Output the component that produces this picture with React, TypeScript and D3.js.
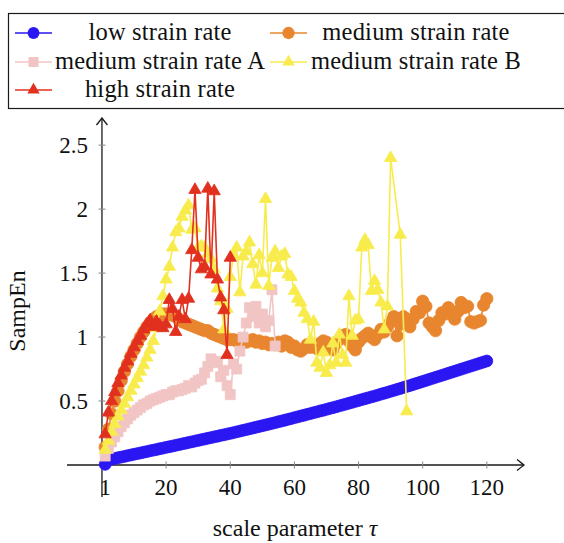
import * as d3 from 'd3';

// scale parameter tau for each series
const tauLow = d3.range(1, 121);
const tauMedium = d3.range(1, 121);
const tauMediumA = d3.range(1, 55);
const tauMediumB = d3.range(1, 91).concat([93, 95]);
const tauHigh = d3.range(1, 41);

const lowRate = [
  0.005, 0.04, 0.046, 0.051, 0.057, 0.062, 0.067, 0.073, 0.078, 0.084,
  0.089, 0.094, 0.1, 0.105, 0.111, 0.116, 0.121, 0.127, 0.132, 0.138,
  0.143, 0.148, 0.154, 0.159, 0.165, 0.17, 0.176, 0.181, 0.187, 0.192,
  0.198, 0.203, 0.209, 0.214, 0.22, 0.225, 0.231, 0.236, 0.242, 0.247,
  0.253, 0.259, 0.265, 0.271, 0.277, 0.283, 0.289, 0.295, 0.301, 0.307,
  0.313, 0.319, 0.325, 0.331, 0.338, 0.344, 0.35, 0.357, 0.363, 0.37,
  0.376, 0.383, 0.389, 0.396, 0.402, 0.409, 0.415, 0.422, 0.428, 0.435,
  0.442, 0.448, 0.455, 0.462, 0.469, 0.476, 0.483, 0.49, 0.497, 0.504,
  0.511, 0.518, 0.525, 0.532, 0.539, 0.546, 0.554, 0.561, 0.568, 0.576,
  0.583, 0.591, 0.598, 0.606, 0.614, 0.621, 0.629, 0.637, 0.645, 0.653,
  0.661, 0.669, 0.677, 0.685, 0.693, 0.701, 0.709, 0.717, 0.725, 0.733,
  0.741, 0.749, 0.757, 0.765, 0.773, 0.781, 0.789, 0.797, 0.805, 0.813,
];

const mediumRate = [
  0.14, 0.28, 0.4, 0.5, 0.58, 0.66, 0.73, 0.79, 0.85, 0.9,
  0.95, 1.0, 1.04, 1.08, 1.11, 1.14, 1.16, 1.17, 1.18, 1.18,
  1.18, 1.17, 1.16, 1.14, 1.12, 1.11, 1.1, 1.09, 1.08, 1.07,
  1.06, 1.05, 1.05, 1.03, 1.02, 1.01, 1.0, 0.99, 0.98, 0.98,
  0.98, 0.97, 0.98, 0.97, 0.96, 0.97, 0.98, 0.96, 0.97, 0.95,
  0.96, 0.94, 0.95, 0.94, 0.96, 0.93, 0.97, 0.96, 0.92, 0.93,
  0.9, 0.89, 0.91, 0.94, 0.92, 0.93, 0.91, 0.95, 0.97, 0.96,
  0.93, 0.9, 0.95, 0.98, 1.01, 1.02, 0.97, 0.93, 0.9, 0.96,
  0.99, 1.01, 1.03, 1.0, 0.98, 1.02, 1.06, 1.04, 1.08, 1.12,
  1.16, 1.01, 1.1, 1.16, 1.14, 1.08, 1.14, 1.2, 1.19, 1.28,
  1.24, 1.11, 1.08, 1.05, 1.13, 1.19, 1.18, 1.23, 1.2, 1.14,
  1.2, 1.27, 1.23, 1.24, 1.12, 1.11, 1.12, 1.13, 1.25, 1.3,
];

const mediumRateA = [
  0.07, 0.13, 0.18, 0.22, 0.26, 0.3, 0.33, 0.36, 0.39, 0.41,
  0.43, 0.45, 0.47, 0.48, 0.5, 0.51, 0.52, 0.53, 0.54, 0.55,
  0.55, 0.57, 0.58, 0.58, 0.59, 0.6, 0.62, 0.61, 0.64, 0.66,
  0.67, 0.72, 0.77, 0.83, 0.8, 0.81, 0.69, 0.74, 0.62, 0.55,
  0.79, 0.75, 0.89, 1.0, 1.11, 1.23, 1.16, 1.24, 1.11, 1.18,
  1.08, 1.13, 1.37, 0.93,
];

const mediumRateB = [
  0.12, 0.19, 0.26, 0.32, 0.38, 0.43, 0.48, 0.53, 0.58, 0.63,
  0.68, 0.73, 0.78, 0.84, 0.9, 0.97, 1.07, 1.2, 1.32, 1.45,
  1.55, 1.7, 1.82, 1.85, 1.94, 1.99, 2.03, 1.84, 1.85, 1.7,
  1.71, 1.7, 1.65, 1.61, 1.53, 1.38, 1.28, 1.06, 1.22, 1.47,
  1.64, 1.7, 1.35, 1.63, 1.67, 1.74, 1.57, 1.41, 1.64, 1.5,
  2.08, 1.4, 1.62, 1.67, 1.54, 1.63, 1.65, 1.49, 1.47, 1.36,
  1.3, 1.27, 1.19, 1.14, 0.98, 1.12, 0.8, 0.76, 0.88, 0.72,
  0.78, 0.95, 0.8, 1.02, 0.86, 0.8, 1.32, 1.01, 1.13, 1.14,
  1.7, 1.76, 1.72, 1.36, 1.44, 1.37, 1.27, 1.06, 1.24, 2.4,
  1.8, 0.42,
];

const highRate = [
  0.24, 0.41, 0.5, 0.57, 0.64, 0.7, 0.76, 0.81, 0.87, 0.92,
  0.97, 1.01, 1.06, 1.1, 1.13, 1.08, 1.12, 1.09, 1.07, 1.1,
  1.29, 1.22, 1.04, 1.16, 1.29, 1.14, 1.3, 1.68, 2.15, 1.62,
  1.53, 1.55, 2.16, 1.49, 2.14, 1.45, 1.31, 1.21, 0.86, 1.62,
];

const xTicks = [1, 20, 40, 60, 80, 100, 120];
const yTicks = [0.5, 1, 1.5, 2, 2.5];

const series = [
  { name: 'low strain rate', color: '#2b17f2', symbol: d3.symbolCircle, size: 110, tau: tauLow, values: lowRate },
  { name: 'medium strain rate', color: '#e8862f', symbol: d3.symbolCircle, size: 120, tau: tauMedium, values: mediumRate },
  { name: 'medium strain rate A', color: '#f2c5c5', symbol: d3.symbolSquare, size: 100, tau: tauMediumA, values: mediumRateA },
  { name: 'medium strain rate B', color: '#f8ec4c', symbol: d3.symbolTriangle, size: 66, tau: tauMediumB, values: mediumRateB },
  { name: 'high strain rate', color: '#e2301f', symbol: d3.symbolTriangle, size: 66, tau: tauHigh, values: highRate },
];

const FONT = '"Liberation Serif", "Times New Roman", serif';

export default function App() {
  const x = d3.scaleLinear().domain([-10.9, 131.9]).range([67, 525]);
  const y = d3.scaleLinear().domain([-0.25, 2.72]).range([497, 117]);
  const x0 = x(0);
  const y0 = y(0);

  const line = d3
    .line<[number, number]>()
    .x((d) => x(d[0]))
    .y((d) => y(d[1]));

  // legend layout: two columns, three rows
  const legendCols = [
    { lineX: 15, textX: 160 },
    { lineX: 270, textX: 416 },
  ];
  const legendRows = [33, 62, 90];

  const arrow = 'M -5.5,-7 Q -1.5,-2 0,0 Q 1.5,-2 5.5,-7';

  return (
    <svg
      width={564}
      height={543}
      style={{ position: 'absolute', left: 0, top: 0, background: '#fff' }}
      fontFamily={FONT}
    >
      {/* axes */}
      <g stroke="#1a1a1a" strokeWidth={1.3} fill="none">
        <line x1={67} x2={523} y1={y0} y2={y0} />
        <path d={arrow} transform={`translate(524,${y0}) rotate(-90)`} />
        <line x1={x0} x2={x0} y1={497} y2={119} />
        <path d={arrow} transform={`translate(${x0},118) rotate(180)`} />
      </g>
      <g stroke="#888" strokeWidth={1}>
        {xTicks.map((t) => (
          <line key={t} x1={x(t)} x2={x(t)} y1={y0 - 3.5} y2={y0 + 3.5} />
        ))}
        {yTicks.map((t) => (
          <line key={t} x1={x0 - 3.5} x2={x0 + 3.5} y1={y(t)} y2={y(t)} />
        ))}
      </g>
      <g fontSize={23} fill="#111">
        {xTicks.map((t) => (
          <text key={t} x={x(t)} y={495} textAnchor="middle">
            {t}
          </text>
        ))}
        {yTicks.map((t) => (
          <text key={t} x={88} y={y(t) + 7.5} textAnchor="end">
            {t}
          </text>
        ))}
      </g>

      {/* series */}
      {series.map((s) => {
        const pts = s.tau.map((t, i) => [t, s.values[i]] as [number, number]);
        const sym = d3.symbol(s.symbol, s.size)();
        return (
          <g key={s.name}>
            <path d={line(pts) ?? ''} fill="none" stroke={s.color} strokeWidth={1.6} />
            {pts.map((p, i) => (
              <path
                key={i}
                d={sym ?? ''}
                transform={`translate(${x(p[0])},${y(p[1])})`}
                fill={s.color}
                stroke={s.color}
                strokeWidth={0.8}
              />
            ))}
          </g>
        );
      })}

      {/* legend */}
      <rect x={8.5} y={13.5} width={570} height={95} fill="#fff" stroke="#1a1a1a" strokeWidth={1.2} />
      {series.map((s, i) => {
        const col = legendCols[i % 2];
        const cy = legendRows[Math.floor(i / 2)];
        const sym = d3.symbol(s.symbol, s.size)();
        return (
          <g key={s.name}>
            <line x1={col.lineX} x2={col.lineX + 37} y1={cy} y2={cy} stroke={s.color} strokeWidth={1.6} />
            <path d={sym ?? ''} transform={`translate(${col.lineX + 18.5},${cy})`} fill={s.color} />
            <text
              x={col.textX}
              y={cy + 7}
              textAnchor="middle"
              fontSize={24.5}
              letterSpacing={0.2}
              fill="#111"
            >
              {s.name}
            </text>
          </g>
        );
      })}

      {/* axis labels */}
      <text x={295} y={536} textAnchor="middle" fontSize={24} fill="#111">
        scale parameter <tspan fontStyle="italic">τ</tspan>
      </text>
      <text
        transform="translate(25,311) rotate(-90)"
        textAnchor="middle"
        fontSize={24}
        fill="#111"
      >
        SampEn
      </text>
    </svg>
  );
}
